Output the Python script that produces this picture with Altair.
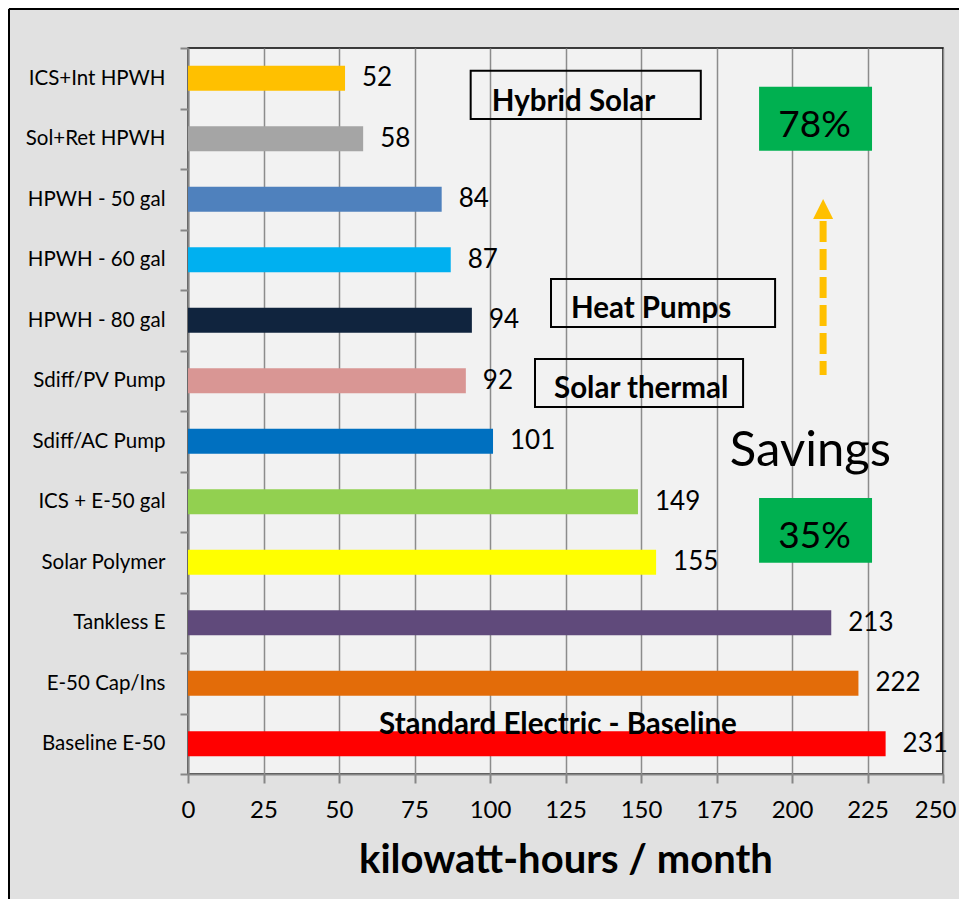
import altair as alt
import pandas as pd

# ---- bar data (top to bottom) ----
categories = ["ICS+Int HPWH", "Sol+Ret HPWH", "HPWH - 50 gal", "HPWH - 60 gal",
              "HPWH - 80 gal", "Sdiff/PV Pump", "Sdiff/AC Pump", "ICS + E-50 gal",
              "Solar Polymer", "Tankless E", "E-50 Cap/Ins", "Baseline E-50"]
values = [52, 58, 84, 87, 94, 92, 101, 149, 155, 213, 222, 231]
bar_colors = ["#FFC000", "#A5A5A5", "#4F81BD", "#00B0F0", "#10243E", "#D99694",
              "#0070C0", "#92D050", "#FFFF00", "#604A7B", "#E36C09", "#FF0000"]
x_ticks = [0, 25, 50, 75, 100, 125, 150, 175, 200, 225, 250]

# ---- annotations (x in kWh units, y in row units from the top: 0..12) ----
box_labels = ["Hybrid Solar", "Heat Pumps", "Solar thermal"]
box_x1 = [93.6, 120.2, 114.9]
box_x2 = [169.8, 194.4, 183.8]
box_y1 = [0.375, 3.818, 5.14]
box_y2 = [1.174, 4.612, 5.934]
box_text_x = [100.6, 126.8, 121.2]
box_text_y = [1.036, 4.468, 5.790]

pct_labels = ["78%", "35%"]
pct_x1 = [189.1, 189.1]
pct_x2 = [226.5, 226.5]
pct_y1 = [0.64, 7.438]
pct_y2 = [1.698, 8.507]
pct_text_x = [207.5, 207.5]
pct_text_y = [1.466, 8.269]

savings_label = ["Savings"]
savings_x = [206.1]
savings_y = [6.909]

baseline_label = ["Standard Electric - Baseline"]
baseline_x = [122.5]
baseline_y = [11.344]

arrow_x = [210.3]
arrow_y1 = [2.86]
arrow_y2 = [5.405]
arrow_head_y = [2.661]

FONT = "Lato"

bars_df = pd.DataFrame({"cat": categories, "value": values})
xscale = alt.Scale(domain=[0, 250], nice=False, zero=True)
rscale = alt.Scale(domain=[0, 12], reverse=True, nice=False, zero=False)

xaxis = alt.Axis(values=x_ticks, title="kilowatt-hours / month",
                 titleFont=FONT, titleFontSize=40, titleFontWeight="bold",
                 titleColor="black", titlePadding=18,
                 labelFont=FONT, labelFontSize=24, labelColor="black", labelFlush=False,
                 labelAlign={"condition": {"test": "datum.value == 250", "value": "right"},
                             "value": "center"},
                 labelOffset={"condition": {"test": "datum.value == 250", "value": 13},
                              "value": 0},
                 labelPadding=15, tickSize=9, tickWidth=2, tickColor="#868686",
                 domainColor="#868686", domainWidth=2,
                 grid=True, gridColor="#8c8c8c", gridWidth=1.5)

ycat = alt.Y("cat:N", sort=categories,
             scale=alt.Scale(paddingInner=0, paddingOuter=0),
             axis=alt.Axis(title=None, tickBand="extent", tickSize=8, tickWidth=2,
                           tickColor="#868686", domainColor="#868686", domainWidth=2,
                           labelFontSize=20.5, labelFont=FONT, labelColor="black",
                           labelPadding=15, grid=False, labelLimit=300))


def X(f):
    return alt.X(f, scale=xscale, axis=xaxis)


def Y(f):
    return alt.Y(f, scale=rscale, axis=None)


base = alt.Chart(bars_df)
bars = base.mark_bar(size=25).encode(
    y=ycat, x=X("value:Q"),
    color=alt.Color("cat:N", scale=alt.Scale(domain=categories, range=bar_colors), legend=None),
)
vlabels = base.mark_text(align="left", baseline="middle", dx=17, fontSize=26,
                         font=FONT, color="black").encode(
    y=alt.Y("cat:N", sort=categories), x=X("value:Q"), text="value:Q")

bar_layer = alt.layer(bars, vlabels)

boxes_df = pd.DataFrame({"label": box_labels, "x1": box_x1, "x2": box_x2, "y1": box_y1,
                         "y2": box_y2, "tx": box_text_x, "ty": box_text_y})
pct_df = pd.DataFrame({"label": pct_labels, "x1": pct_x1, "x2": pct_x2, "y1": pct_y1,
                       "y2": pct_y2, "tx": pct_text_x, "ty": pct_text_y})
sav_df = pd.DataFrame({"label": savings_label, "tx": savings_x, "ty": savings_y})
std_df = pd.DataFrame({"label": baseline_label, "tx": baseline_x, "ty": baseline_y})
arr_df = pd.DataFrame({"x": arrow_x, "y1": arrow_y1, "y2": arrow_y2, "hy": arrow_head_y})

box_rects = alt.Chart(boxes_df).mark_rect(fill="transparent", stroke="black", strokeWidth=2).encode(
    x=X("x1:Q"), x2="x2:Q", y=Y("y1:Q"), y2="y2:Q")
box_texts = alt.Chart(boxes_df).mark_text(align="left", baseline="alphabetic", fontSize=29.5,
                                          fontWeight="bold", font=FONT, color="black").encode(
    x=X("tx:Q"), y=Y("ty:Q"), text="label:N")
pct_rects = alt.Chart(pct_df).mark_rect(fill="#00B050").encode(
    x=X("x1:Q"), x2="x2:Q", y=Y("y1:Q"), y2="y2:Q")
pct_texts = alt.Chart(pct_df).mark_text(align="center", baseline="alphabetic", fontSize=37,
                                        font=FONT, color="black").encode(
    x=X("tx:Q"), y=Y("ty:Q"), text="label:N")
sav_text = alt.Chart(sav_df).mark_text(align="center", baseline="alphabetic", fontSize=49,
                                       font=FONT, color="black").encode(
    x=X("tx:Q"), y=Y("ty:Q"), text="label:N")
std_text = alt.Chart(std_df).mark_text(align="center", baseline="alphabetic", fontSize=29.5,
                                       fontWeight="bold", font=FONT, color="black").encode(
    x=X("tx:Q"), y=Y("ty:Q"), text="label:N")
arrow_line = alt.Chart(arr_df).mark_rule(color="#FFC000", strokeWidth=7, strokeDash=[21, 7],
                                         strokeCap="butt").encode(
    x=X("x:Q"), y=Y("y1:Q"), y2="y2:Q")
arrow_head = alt.Chart(arr_df).mark_point(shape="M0,-1L1,1L-1,1Z", filled=True, size=400,
                                          color="#FFC000", opacity=1).encode(
    x=X("x:Q"), y=Y("hy:Q"))

frame_df = pd.DataFrame({"k": [0]})
frame_left = alt.Chart(frame_df).mark_rule(color="black", strokeWidth=2).encode(
    x=alt.value(-179), y=alt.value(-39), y2=alt.value(900))
frame_top = alt.Chart(frame_df).mark_rule(color="black", strokeWidth=2).encode(
    x=alt.value(-179), x2=alt.value(820), y=alt.value(-39))

annot_layer = alt.layer(box_rects, box_texts, pct_rects, pct_texts, sav_text, std_text,
                        arrow_line, arrow_head, frame_left, frame_top)

chart = alt.layer(bar_layer, annot_layer).resolve_scale(y="independent").properties(
    width=755, height=726,
    autosize=alt.AutoSizeParams(type="none"),
    padding={"left": 180, "top": 40, "right": 16, "bottom": 125},
).configure(background="#e1e1e1", font=FONT).configure_view(
    fill="#f2f2f2", stroke="black", strokeWidth=1.5)

chart.save("out.html", embed_options={"renderer": "svg", "actions": False})
